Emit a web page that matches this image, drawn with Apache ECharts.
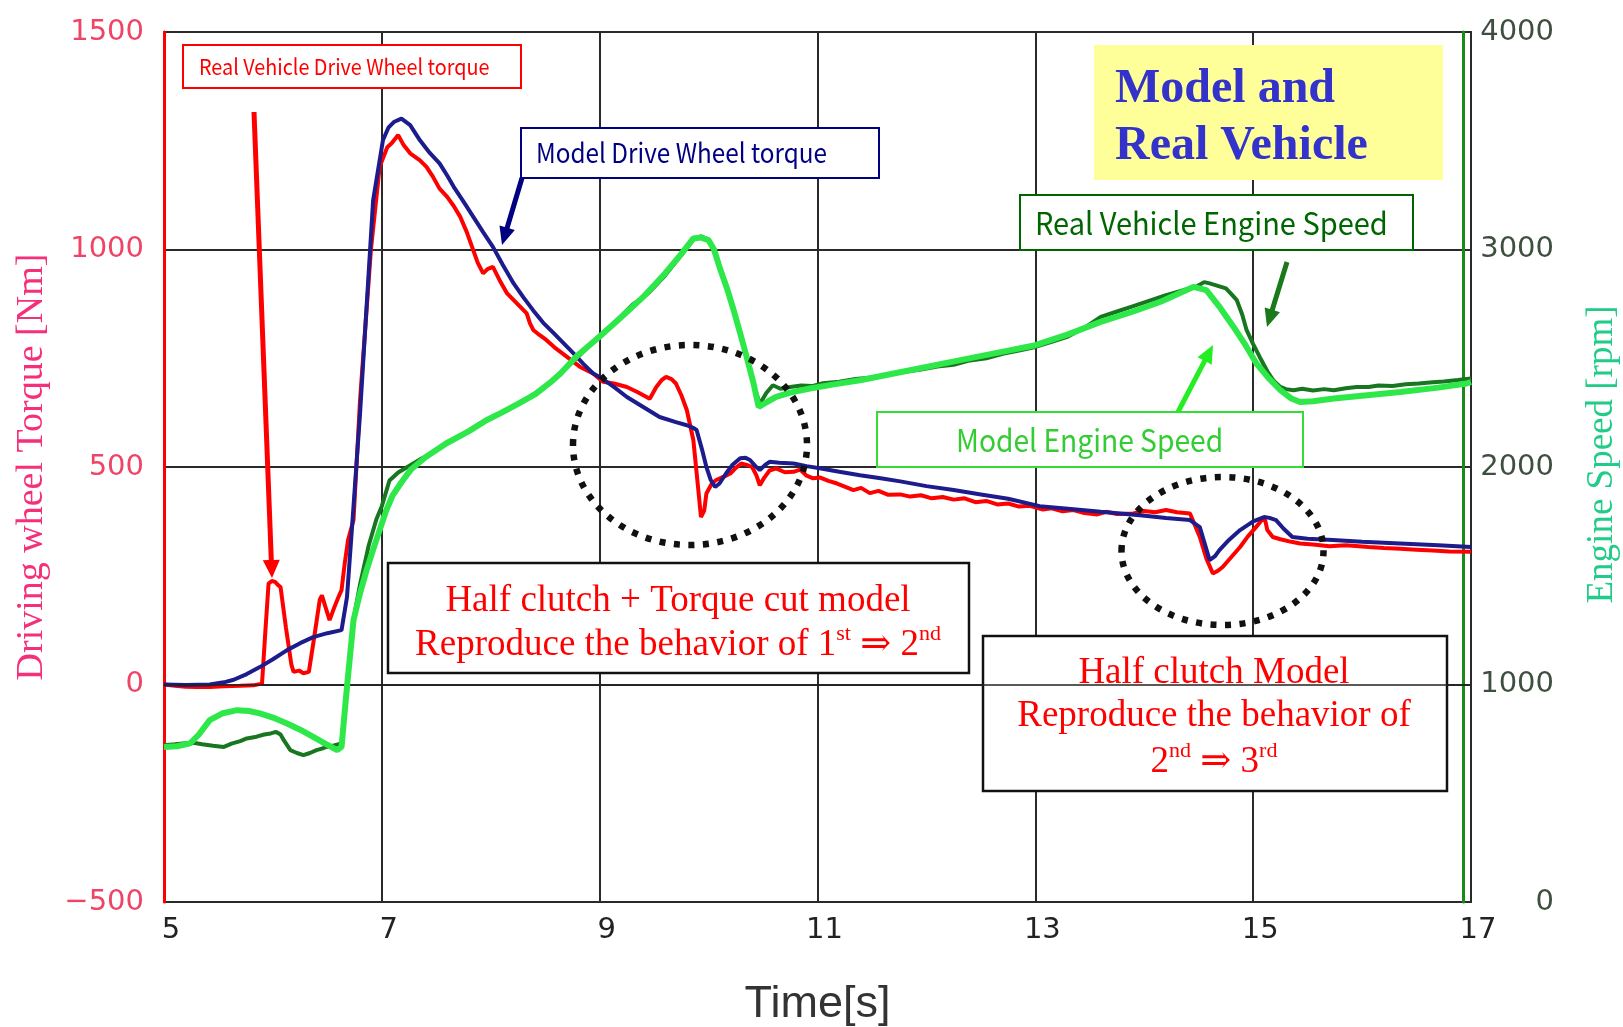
<!DOCTYPE html>
<html><head><meta charset="utf-8">
<script src="https://cdn.jsdelivr.net/npm/echarts@6/dist/echarts.min.js"></script>
<style>html,body{margin:0;padding:0;background:#fff}#c{width:1623px;height:1027px}</style>
</head><body><div id="c"></div>
<script>
// ---------- axis ranges ----------
const timeRange = [5, 17], timeStep = 2;
const torqueRange = [-500, 1500], torqueStep = 500;
const speedRange = [0, 4000], speedStep = 1000;

// ---------- data: [time s, value] ----------
const realTorque = [[5.00,0],[5.10,-3],[5.20,-5],[5.30,-6],[5.42,-6],[5.55,-4],[5.70,-3],[5.82,-2],[5.90,2],[5.93,120],[5.96,232],[5.99,238],[6.02,236],[6.05,228],[6.07,224],[6.12,130],[6.17,45],[6.19,29],[6.24,32],[6.28,26],[6.33,29],[6.38,110],[6.43,195],[6.45,205],[6.48,180],[6.52,148],[6.56,175],[6.60,200],[6.63,217],[6.66,280],[6.69,332],[6.74,378],[6.80,654],[6.90,1000],[6.98,1190],[7.05,1235],[7.09,1244],[7.15,1263],[7.20,1240],[7.26,1221],[7.35,1205],[7.41,1190],[7.47,1167],[7.53,1140],[7.60,1121],[7.66,1100],[7.72,1075],[7.78,1040],[7.84,998],[7.88,970],[7.93,945],[7.97,955],[8.02,960],[8.08,930],[8.15,899],[8.24,876],[8.33,853],[8.36,830],[8.39,815],[8.45,803],[8.51,792],[8.60,772],[8.70,753],[8.82,730],[8.94,715],[9.03,696],[9.13,692],[9.25,684],[9.35,672],[9.46,657],[9.52,684],[9.57,700],[9.61,707],[9.66,702],[9.70,692],[9.75,665],[9.80,631],[9.86,562],[9.90,462],[9.93,385],[9.96,400],[9.98,439],[10.03,462],[10.07,470],[10.14,478],[10.20,485],[10.25,498],[10.30,508],[10.35,505],[10.40,500],[10.44,480],[10.47,458],[10.51,475],[10.56,492],[10.62,497],[10.70,488],[10.78,489],[10.84,494],[10.90,480],[10.96,474],[11.02,476],[11.10,468],[11.18,462],[11.25,455],[11.33,447],[11.40,452],[11.48,440],[11.56,445],[11.65,436],[11.76,437],[11.85,432],[11.95,435],[12.05,428],[12.15,431],[12.25,425],[12.35,428],[12.45,419],[12.55,422],[12.65,414],[12.75,416],[12.85,409],[12.95,411],[13.07,402],[13.15,405],[13.25,398],[13.35,401],[13.45,394],[13.57,391],[13.65,397],[13.75,392],[13.90,393],[14.00,399],[14.10,396],[14.20,401],[14.30,396],[14.42,393],[14.51,339],[14.57,290],[14.63,255],[14.68,262],[14.72,270],[14.80,293],[14.88,316],[14.95,340],[15.02,360],[15.08,378],[15.11,378],[15.13,355],[15.18,339],[15.25,334],[15.35,328],[15.43,324],[15.55,322],[15.70,318],[15.85,320],[16.06,316],[16.20,314],[16.35,312],[16.50,310],[16.65,308],[16.80,306],[17.00,305]];

const modelTorque = [[5.00,0],[5.20,-1],[5.42,0],[5.55,5],[5.64,11],[5.76,24],[5.88,40],[6.00,58],[6.13,79],[6.25,95],[6.37,109],[6.50,118],[6.63,125],[6.68,201],[6.72,339],[6.80,623],[6.92,1113],[7.01,1251],[7.06,1280],[7.11,1293],[7.18,1301],[7.26,1286],[7.35,1251],[7.44,1222],[7.53,1198],[7.60,1170],[7.66,1144],[7.75,1110],[7.84,1075],[7.93,1040],[8.02,1006],[8.11,965],[8.21,922],[8.30,890],[8.39,860],[8.48,832],[8.58,807],[8.67,784],[8.76,761],[8.85,737],[8.94,715],[9.00,707],[9.13,684],[9.25,661],[9.40,638],[9.55,615],[9.70,603],[9.80,596],[9.86,590],[9.89,585],[9.94,540],[9.98,500],[10.02,470],[10.06,454],[10.10,462],[10.16,485],[10.22,505],[10.29,520],[10.34,521],[10.38,516],[10.43,502],[10.47,493],[10.52,505],[10.56,512],[10.65,510],[10.78,508],[10.90,502],[11.02,497],[11.20,489],[11.39,481],[11.58,474],[11.76,467],[12.00,456],[12.25,447],[12.50,437],[12.75,427],[13.04,410],[13.30,404],[13.60,397],[13.96,389],[14.20,383],[14.42,378],[14.51,362],[14.56,320],[14.60,286],[14.65,295],[14.69,309],[14.78,333],[14.88,355],[15.00,375],[15.10,385],[15.15,383],[15.21,378],[15.28,358],[15.36,339],[15.50,335],[15.73,332],[16.00,328],[16.35,324],[16.70,320],[17.00,316]];

const modelSpeed = [[5.00,713],[5.12,716],[5.24,729],[5.32,770],[5.42,836],[5.54,868],[5.67,882],[5.78,878],[5.88,867],[6.00,848],[6.13,821],[6.25,792],[6.37,759],[6.48,728],[6.59,698],[6.63,713],[6.68,989],[6.74,1296],[6.80,1420],[6.86,1526],[6.92,1620],[6.98,1710],[7.04,1800],[7.10,1870],[7.18,1930],[7.27,1990],[7.40,2045],[7.59,2108],[7.80,2165],[7.96,2215],[8.10,2250],[8.25,2290],[8.41,2335],[8.55,2390],[8.64,2430],[8.79,2510],[9.00,2600],[9.20,2690],[9.40,2782],[9.60,2890],[9.75,2980],[9.86,3051],[9.93,3055],[10.00,3043],[10.05,3000],[10.10,2920],[10.17,2820],[10.23,2721],[10.29,2615],[10.35,2506],[10.41,2390],[10.46,2276],[10.54,2300],[10.62,2322],[10.75,2342],[10.93,2361],[11.15,2380],[11.39,2399],[11.70,2430],[12.00,2460],[12.30,2490],[12.60,2520],[13.00,2560],[13.30,2610],[13.60,2667],[13.90,2715],[14.15,2760],[14.45,2828],[14.57,2813],[14.70,2730],[14.82,2644],[14.93,2560],[15.03,2476],[15.14,2410],[15.25,2353],[15.35,2315],[15.43,2299],[15.55,2302],[15.74,2315],[16.00,2328],[16.35,2345],[16.70,2365],[16.96,2384],[17.00,2390]];

const realSpeed = [[5.00,721],[5.10,725],[5.20,730],[5.27,732],[5.35,725],[5.45,718],[5.55,713],[5.62,728],[5.70,740],[5.76,752],[5.85,760],[5.92,770],[5.98,775],[6.03,782],[6.07,770],[6.10,744],[6.16,698],[6.22,685],[6.28,675],[6.34,685],[6.40,698],[6.45,705],[6.49,713],[6.56,720],[6.63,729],[6.68,1000],[6.74,1300],[6.80,1460],[6.88,1640],[6.95,1760],[7.00,1820],[7.07,1938],[7.15,1975],[7.25,2005],[7.35,2035],[7.45,2060],[7.60,2110],[7.75,2150],[7.90,2200],[8.05,2240],[8.20,2275],[8.35,2320],[8.50,2370],[8.64,2430],[8.80,2505],[9.00,2605],[9.15,2670],[9.30,2745],[9.45,2800],[9.60,2880],[9.75,2975],[9.86,3045],[9.93,3060],[10.00,3045],[10.06,2980],[10.12,2890],[10.20,2770],[10.28,2630],[10.35,2500],[10.42,2370],[10.47,2290],[10.53,2340],[10.59,2376],[10.66,2360],[10.75,2368],[10.85,2375],[10.95,2372],[11.05,2385],[11.20,2392],[11.35,2405],[11.50,2412],[11.65,2425],[11.80,2438],[11.95,2448],[12.10,2462],[12.25,2470],[12.40,2490],[12.55,2500],[12.70,2520],[12.85,2535],[13.00,2552],[13.15,2575],[13.30,2600],[13.45,2640],[13.60,2690],[13.75,2715],[13.90,2740],[14.05,2765],[14.20,2790],[14.36,2813],[14.48,2830],[14.55,2850],[14.60,2844],[14.66,2835],[14.75,2821],[14.80,2795],[14.85,2767],[14.90,2700],[14.94,2629],[15.00,2565],[15.06,2506],[15.13,2440],[15.19,2395],[15.25,2368],[15.30,2358],[15.37,2353],[15.45,2360],[15.55,2352],[15.65,2358],[15.74,2353],[15.85,2362],[15.95,2368],[16.06,2368],[16.15,2375],[16.28,2372],[16.40,2380],[16.52,2384],[16.65,2390],[16.75,2393],[16.88,2400],[17.00,2407]];

// ---------- texts ----------
const seriesNames = ['Real Vehicle Drive Wheel torque','Model Drive Wheel torque','Real Vehicle Engine Speed','Model Engine Speed'];
const titleLines = ['Model and','Real Vehicle'];

// ---------- helpers for annotations ----------
const SERIF = '"Liberation Serif","DejaVu Serif",serif';
const GOTHIC = '"Noto Sans CJK JP","Liberation Sans",sans-serif';
function arrow(x1,y1,x2,y2,w,L,W,color){
  const dx=x2-x1, dy=y2-y1, len=Math.hypot(dx,dy), ux=dx/len, uy=dy/len, px=-uy, py=ux;
  const bx=x2-ux*L, by=y2-uy*L;
  return {type:'polygon', z:10, silent:true, shape:{points:[
    [x1+px*w/2,y1+py*w/2],[bx+px*w/2,by+py*w/2],[bx+px*W/2,by+py*W/2],[x2,y2],
    [bx-px*W/2,by-py*W/2],[bx-px*w/2,by-py*w/2],[x1-px*w/2,y1-py*w/2]]}, style:{fill:color}};
}
function box(x,y,w,h,stroke,lw,fill){
  return {type:'rect', z:1, silent:true, shape:{x,y,width:w,height:h},
    style:{fill:fill||'#fff', stroke:stroke||'none', lineWidth:lw||0}};
}
function txt(x,y,text,size,color,family,align,weight,rich,sx){
  const st={text, fontSize:size, fontFamily:family, fontWeight:weight||'normal', fill:color,
    align:align||'left', textAlign:align||'left', verticalAlign:'middle', textVerticalAlign:'middle'};
  if(rich) st.rich=rich;
  const el={type:'text', z:1, silent:true, x, y, style:st};
  if(sx){ el.scaleX=sx; el.originX=0; el.originY=0; }
  return el;
}
const supRich = {
  m:{fontSize:37, fontFamily:SERIF, fill:'#ff0000', lineHeight:44},
  s:{fontSize:22, fontFamily:SERIF, fill:'#ff0000', lineHeight:26, verticalAlign:'top'}
};

const chart = echarts.init(document.getElementById('c'), null, {renderer:'canvas'});
const lineS = (name,data,yi,color,w,z,extra)=>Object.assign({
  type:'line', name, data, yAxisIndex:yi, showSymbol:false, symbol:'none', smooth:false,
  lineStyle:{color, width:w}, itemStyle:{color}, z, animation:false}, extra||{});

chart.setOption({
  animation:false,
  backgroundColor:'#ffffff',
  grid:{left:164, right:152, top:32, bottom:125, show:true, borderColor:'#333', borderWidth:2,
        backgroundColor:'transparent', containLabel:false, outerBoundsMode:'none'},
  xAxis:{type:'value', min:timeRange[0], max:timeRange[1], interval:timeStep,
    axisLine:{show:true, lineStyle:{color:'#333', width:2}}, axisTick:{show:false},
    splitLine:{show:true, lineStyle:{color:'#2a2a2a', width:2}},
    axisLabel:{color:'#222', fontSize:29, fontFamily:'"DejaVu Sans"', margin:14, padding:[0,0,0,14]},
    name:'Time[s]', nameLocation:'middle', nameGap:80,
    nameTextStyle:{fontSize:45, color:'#333', fontFamily:'"Liberation Sans"'}},
  yAxis:[
    {type:'value', min:torqueRange[0], max:torqueRange[1], interval:torqueStep, position:'left',
     axisLine:{show:true, lineStyle:{color:'#ff0000', width:3}}, axisTick:{show:false},
     splitLine:{show:true, lineStyle:{color:'#2a2a2a', width:2}},
     axisLabel:{color:'#ee4466', fontSize:29, fontFamily:'"DejaVu Sans"', margin:20,
       formatter:v=> v<0 ? '\u2212'+Math.abs(v) : String(v)},
     name:'Driving wheel Torque [Nm]', nameLocation:'middle', nameRotate:90, nameGap:113,
     nameTextStyle:{fontSize:38, fontFamily:SERIF, color:'#f5307a'}},
    {type:'value', min:speedRange[0], max:speedRange[1], interval:speedStep, position:'right', offset:-8,
     axisLine:{show:true, lineStyle:{color:'#1a8a1a', width:3}}, axisTick:{show:false},
     splitLine:{show:false},
     axisLabel:{color:'#3f4f3f', fontSize:29, fontFamily:'"DejaVu Sans"', margin:91, align:'right',
       formatter:v=>String(v)},
     name:'Engine Speed [rpm]', nameLocation:'middle', nameRotate:90, nameGap:121,
     nameTextStyle:{fontSize:37, fontFamily:SERIF, color:'#22cc88', padding:[0,0,0,25]}}
  ],
  series:[
    lineS(seriesNames[0], realTorque, 0, '#ff0000', 4, 2, {markLine:{silent:true, symbol:['none','none'],
      label:{show:false}, animation:false, lineStyle:{color:'#222', width:1.5, type:'solid'}, data:[{yAxis:0}]}}),
    lineS(seriesNames[1], modelTorque, 0, '#1c1c8c', 4, 3),
    lineS(seriesNames[2], realSpeed, 1, '#17761f', 4, 4),
    lineS(seriesNames[3], modelSpeed, 1, '#2ee84a', 6, 5)
  ],
  graphic:[
    box(183,45,338,43,'#ff0000',2),
    txt(199,67,seriesNames[0],22,'#ff0000',GOTHIC,'left',null,null,0.9),
    box(521,128,358,50,'#000080',2),
    txt(536,153,seriesNames[1],27,'#000080',GOTHIC,'left',null,null,0.9),
    box(1094,45,349,135,null,0,'#ffff99'),
    txt(1115,90,titleLines[0],48,'#3333cc',SERIF,'left','bold'),
    txt(1115,147,titleLines[1],48,'#3333cc',SERIF,'left','bold'),
    box(1020,195,393,55,'#006600',2),
    txt(1035,223,seriesNames[2],31,'#006600',GOTHIC,'left',null,null,0.935),
    box(877,412,426,55,'#33dd33',2),
    txt(956,440,seriesNames[3],31,'#33cc33',GOTHIC,'left',null,null,0.91),
    box(388,563,581,110,'#111',2.5),
    txt(678,601,'Half clutch + Torque cut model',37,'#ff0000',SERIF,'center'),
    txt(678,645,'{m|Reproduce the behavior of 1}{s|st}{m| \u21D2 2}{s|nd}',37,'#ff0000',SERIF,'center',null,supRich),
    box(983,636,464,155,'#111',2.5),
    txt(1214,673,'Half clutch Model',37,'#ff0000',SERIF,'center'),
    txt(1214,716,'Reproduce the behavior of',37,'#ff0000',SERIF,'center'),
    txt(1214,762,'{m|2}{s|nd}{m| \u21D2 3}{s|rd}',37,'#ff0000',SERIF,'center',null,supRich),
    {type:'ellipse', z:10, silent:true, shape:{cx:690, cy:445, rx:117, ry:100},
      style:{fill:'none', stroke:'#111', lineWidth:6.5, lineDash:[6,8.5]}},
    {type:'ellipse', z:10, silent:true, shape:{cx:1222.5, cy:551, rx:101, ry:74},
      style:{fill:'none', stroke:'#111', lineWidth:6.5, lineDash:[6,8.5]}},
    arrow(254,112,272,578,5,18,17,'#ff0000'),
    arrow(522,178,502,245,5,18,16,'#000080'),
    arrow(1287,262,1267,327,5,18,16,'#1a7a1a'),
    arrow(1178,412,1213,345,5,18,16,'#22ee22')
  ]
});
</script></body></html>
